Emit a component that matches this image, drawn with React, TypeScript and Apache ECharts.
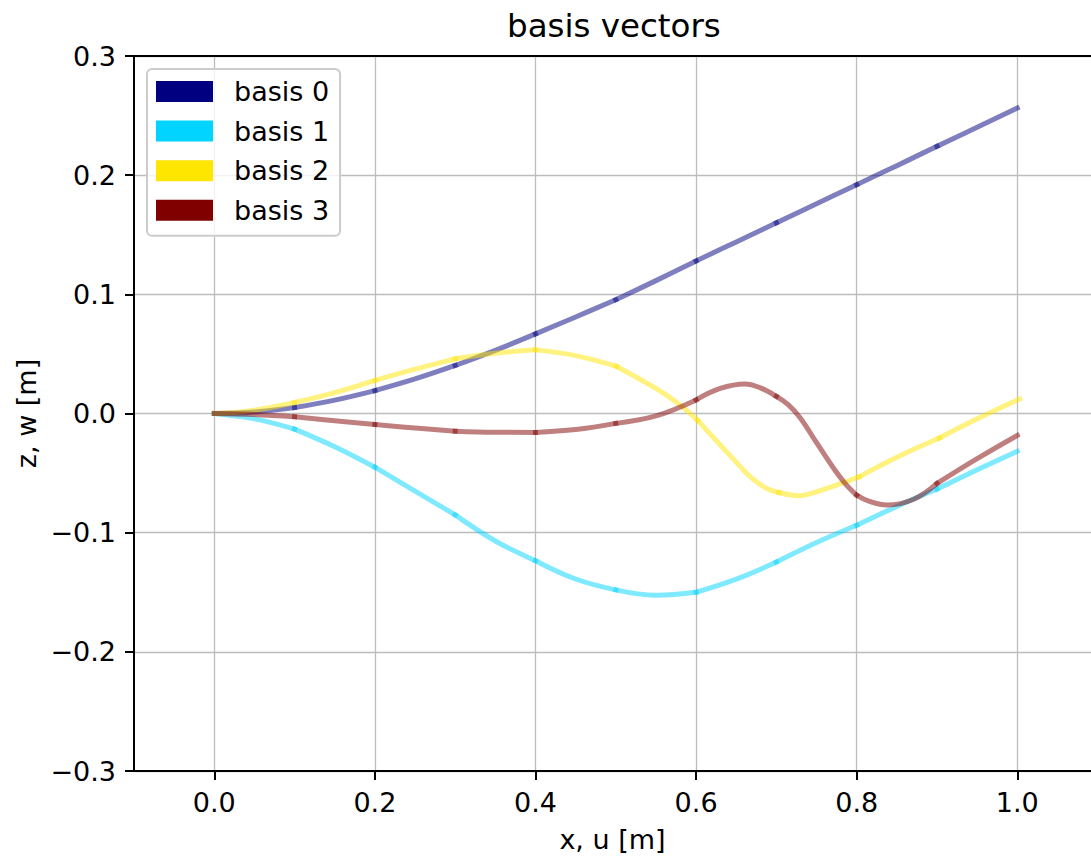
import React, { useEffect, useRef } from "react";
import * as echarts from "echarts";

// Element node positions along the beam (10 elements)
const NODE_X = [0, 0.1, 0.2, 0.3, 0.4, 0.5, 0.6, 0.7, 0.8, 0.9, 1.0];

// Deflected shapes (x + u, z + w) sampled along the beam
const B0_X = [0, 0.05, 0.1, 0.15, 0.2, 0.25, 0.3, 0.35, 0.4, 0.45, 0.5, 0.55, 0.6, 0.65, 0.7, 0.75, 0.8, 0.85, 0.9, 0.95, 1.0];
const B0_Y = [0, 0.0013, 0.005, 0.0112, 0.0192, 0.029, 0.0403, 0.053, 0.0668, 0.081, 0.0955, 0.1115, 0.128, 0.144, 0.16, 0.176, 0.192, 0.208, 0.2242, 0.2402, 0.2563];

const B1_X = [0, 0.05, 0.1, 0.15, 0.2, 0.25, 0.3, 0.35, 0.4, 0.45, 0.5, 0.55, 0.6, 0.65, 0.7, 0.75, 0.8, 0.85, 0.9, 0.95, 1.0];
const B1_Y = [0, -0.0045, -0.0131, -0.0279, -0.0451, -0.0651, -0.0851, -0.107, -0.1235, -0.1389, -0.148, -0.1525, -0.15, -0.139, -0.1247, -0.1083, -0.0938, -0.078, -0.0634, -0.0473, -0.0317];

const B2_X = [0, 0.05, 0.1, 0.15, 0.2, 0.25, 0.3, 0.35, 0.4, 0.45, 0.501, 0.55, 0.58, 0.602, 0.626, 0.647, 0.668, 0.688, 0.703, 0.728, 0.75, 0.803, 0.85, 0.903, 0.95, 1.003];
const B2_Y = [0, 0.0028, 0.0092, 0.0175, 0.0278, 0.0372, 0.0459, 0.0506, 0.0534, 0.0486, 0.0395, 0.021, 0.0072, -0.0058, -0.0234, -0.0387, -0.0534, -0.0629, -0.0663, -0.069, -0.0657, -0.0532, -0.0367, -0.0206, -0.0045, 0.0122];

const B3_X = [0, 0.05, 0.1, 0.15, 0.2, 0.25, 0.3, 0.35, 0.4, 0.45, 0.5, 0.55, 0.6, 0.63, 0.661, 0.68, 0.7, 0.715, 0.73, 0.75, 0.771, 0.786, 0.8, 0.815, 0.838, 0.871, 0.9, 0.95, 1.0];
const B3_Y = [0, -0.0008, -0.0028, -0.006, -0.0092, -0.0122, -0.0148, -0.0157, -0.0159, -0.0135, -0.0083, -0.002, 0.0114, 0.021, 0.0247, 0.0215, 0.0144, 0.0072, -0.004, -0.0245, -0.0457, -0.059, -0.0685, -0.0735, -0.0768, -0.072, -0.0587, -0.0379, -0.0184];

const SERIES_NAMES = ["basis 0", "basis 1", "basis 2", "basis 3"];
const SERIES_COLORS = ["#000080", "#00d4ff", "#ffe600", "#800000"];
const SHAPES_X = [B0_X, B1_X, B2_X, B3_X];
const SHAPES_Y = [B0_Y, B1_Y, B2_Y, B3_Y];

const X_TICKS = [0, 0.2, 0.4, 0.6, 0.8, 1.0];

const FONT = "DejaVu Sans";

// Cut a sampled shape into one polyline per element, sharing the node points
function splitIntoElements(xs: number[], ys: number[]): number[][][] {
  const idx = NODE_X.map((nx) => {
    let best = 0;
    xs.forEach((x, i) => {
      if (Math.abs(x - nx) < Math.abs(xs[best] - nx)) best = i;
    });
    return best;
  });
  const segs: number[][][] = [];
  for (let k = 0; k < idx.length - 1; k++) {
    const seg: number[][] = [];
    for (let i = idx[k]; i <= idx[k + 1]; i++) seg.push([xs[i], ys[i]]);
    segs.push(seg);
  }
  return segs;
}

function fmtY(v: number): string {
  if (Math.abs(v) < 1e-9) return "0.0";
  const s = v.toFixed(1);
  return s.replace("-", "\u2212");
}

export default function App() {
  const ref = useRef<HTMLDivElement>(null);

  useEffect(() => {
    document.body.style.margin = "0";
    if (!ref.current) return;
    const chart = echarts.init(ref.current, null, { renderer: "svg" });

    const series: any[] = [];
    SHAPES_X.forEach((xs, b) => {
      splitIntoElements(xs, SHAPES_Y[b]).forEach((seg) => {
        series.push({
          type: "line",
          name: SERIES_NAMES[b],
          data: seg,
          smooth: 0.4,
          showSymbol: false,
          symbol: "none",
          silent: true,
          itemStyle: { color: SERIES_COLORS[b] },
          lineStyle: {
            color: SERIES_COLORS[b],
            width: 5,
            opacity: 0.5,
            cap: "square",
            join: "round",
          },
        });
      });
    });

    const option: any = {
      animation: false,
      backgroundColor: "#ffffff",
      textStyle: { fontFamily: FONT },
      title: {
        text: "basis vectors",
        left: 502,
        top: 4,
        textStyle: { fontFamily: FONT, fontSize: 32.5, fontWeight: "normal", color: "#000" },
      },
      legend: {
        data: SERIES_NAMES.map((n, i) => ({
          name: n,
          icon: "rect",
          itemStyle: { color: SERIES_COLORS[i], opacity: 1, borderWidth: 0 },
        })),
        orient: "vertical",
        left: 147,
        top: 69,
        itemWidth: 57,
        itemHeight: 21,
        itemGap: 12.6,
        padding: [9, 11, 12, 9],
        selectedMode: false,
        backgroundColor: "rgba(255,255,255,0.8)",
        borderColor: "#cccccc",
        borderWidth: 2,
        borderRadius: 5,
        textStyle: {
          fontFamily: FONT,
          fontSize: 27,
          lineHeight: 27,
          color: "#000",
          padding: [0, 0, 0, 16],
        },
      },
      grid: { left: 134, top: 56, width: 957, height: 718, containLabel: false },
      xAxis: [
        {
          type: "value",
          min: -0.1,
          max: 1.0918,
          position: "bottom",
          name: "x, u [m]",
          nameLocation: "middle",
          nameGap: 55,
          nameTextStyle: { fontFamily: FONT, fontSize: 27, color: "#000" },
          axisLine: { show: true, onZero: false, lineStyle: { color: "#000", width: 2 } },
          axisTick: { show: true, inside: false, length: 9, customValues: X_TICKS, lineStyle: { color: "#000", width: 2 } },
          axisLabel: {
            customValues: X_TICKS,
            margin: 18,
            fontFamily: FONT,
            fontSize: 27,
            color: "#000",
            formatter: (v: number) => v.toFixed(1),
          },
          splitLine: { show: true, lineStyle: { color: "#bdbdbd", width: 1.3 } },
        },
        {
          type: "value",
          min: -0.1,
          max: 1.0918,
          position: "top",
          axisLine: { show: true, onZero: false, lineStyle: { color: "#000", width: 2 } },
          axisTick: { show: false },
          axisLabel: { show: false },
          splitLine: { show: false },
        },
      ],
      yAxis: {
        type: "value",
        min: -0.3,
        max: 0.3,
        interval: 0.1,
        name: "z, w [m]",
        nameLocation: "middle",
        nameGap: 88,
        nameTextStyle: { fontFamily: FONT, fontSize: 27, color: "#000" },
        axisLine: { show: true, onZero: false, lineStyle: { color: "#000", width: 2 } },
        axisTick: { show: true, inside: false, length: 9, lineStyle: { color: "#000", width: 2 } },
        axisLabel: {
          margin: 18,
          fontFamily: FONT,
          fontSize: 27,
          color: "#000",
          formatter: fmtY,
        },
        splitLine: { show: true, lineStyle: { color: "#bdbdbd", width: 1.3 } },
      },
      series,
    };

    chart.setOption(option);
    return () => chart.dispose();
  }, []);

  return (
    <div
      ref={ref}
      style={{ position: "fixed", left: 0, top: 0, width: 1091, height: 858 }}
    />
  );
}
